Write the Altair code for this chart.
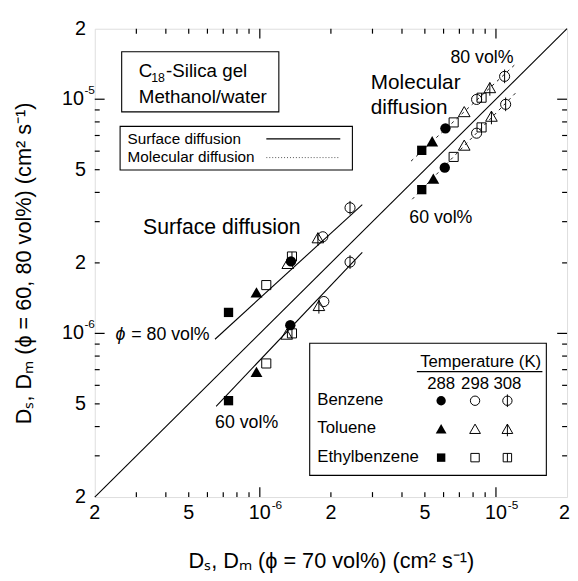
import itertools
import altair as alt
import pandas as pd

# ---------------- data ----------------
compounds = ["Benzene", "Toluene", "Ethylbenzene"]
temps = [288, 298, 308]

# order in every list: Benzene 288/298/308, Toluene 288/298/308, Ethylbenzene 288/298/308
surf80_x = [1.355e-6, 1.848e-6, 2.41e-6, 9.68e-7, 1.313e-6, 1.762e-6, 7.37e-7, 1.065e-6, 1.368e-6]
surf80_y = [2.03e-6, 2.586e-6, 3.44e-6, 1.493e-6, 1.984e-6, 2.554e-6, 1.229e-6, 1.608e-6, 2.13e-6]
surf60_x = [1.346e-6, 1.867e-6, 2.41e-6, 9.68e-7, 1.30e-6, 1.779e-6, 7.37e-7, 1.065e-6, 1.368e-6]
surf60_y = [1.084e-6, 1.368e-6, 2.016e-6, 6.83e-7, 9.90e-7, 1.312e-6, 5.16e-7, 7.44e-7, 1.0e-6]
mol80_x = [6.11e-6, 8.28e-6, 1.088e-5, 5.37e-6, 7.34e-6, 9.42e-6, 4.85e-6, 6.62e-6, 8.69e-6]
mol80_y = [7.51e-6, 9.98e-6, 1.252e-5, 6.60e-6, 8.83e-6, 1.118e-5, 6.05e-6, 7.96e-6, 1.015e-5]
mol60_x = [6.07e-6, 8.28e-6, 1.099e-5, 5.43e-6, 7.34e-6, 9.57e-6, 4.85e-6, 6.62e-6, 8.69e-6]
mol60_y = [5.10e-6, 7.16e-6, 9.51e-6, 4.57e-6, 6.35e-6, 8.44e-6, 4.11e-6, 5.67e-6, 7.58e-6]

# fitted / reference lines (end points)
solid_names = ["1:1", "surface 80", "surface 60"]
solid_x = [[2e-7, 2e-5], [6.46e-7, 2.716e-6], [6.53e-7, 2.716e-6]]
solid_y = [[2e-7, 2e-5], [9.44e-7, 3.55e-6], [4.88e-7, 2.22e-6]]
dash_names = ["molecular 80", "molecular 60"]
dash_x = [[4.37e-6, 1.198e-5], [4.42e-6, 1.213e-5]]
dash_y = [[5.44e-6, 1.40e-5], [3.74e-6, 1.065e-5]]

# axis ticks and labels
major_ticks = [1e-6, 1e-5]
minor_ticks = [3e-7, 4e-7, 5e-7, 6e-7, 7e-7, 8e-7, 9e-7,
               2e-6, 3e-6, 4e-6, 5e-6, 6e-6, 7e-6, 8e-6, 9e-6]
plain_label_vals = [2e-7, 5e-7, 2e-6, 5e-6, 2e-5]
plain_label_txt = ["2", "5", "2", "5", "2"]
decade_vals = [1e-6, 1e-5]
decade_exp = ["-6", "-5"]

# ---------------- build tables ----------------
rows = []
for xs, ys in [(surf80_x, surf80_y), (surf60_x, surf60_y), (mol80_x, mol80_y), (mol60_x, mol60_y)]:
    for i, (c, t) in enumerate(itertools.product(compounds, temps)):
        rows.append({"x": xs[i], "y": ys[i], "compound": c, "temp": t, "key": f"{c} {t}"})
pts = pd.DataFrame(rows)


def line_table(names, xs, ys):
    r = []
    for n, xx, yy in zip(names, xs, ys):
        for a, b in zip(xx, yy):
            r.append({"line": n, "x": a, "y": b})
    return pd.DataFrame(r)


solid_df = line_table(solid_names, solid_x, solid_y)
dash_df = line_table(dash_names, dash_x, dash_y)

# ---------------- styling ----------------
FONT = "Liberation Sans"
W, H = 479, 475

CIRCLE = "circle"
CIRCLE_BAR = "M-1,0A1,1,0,1,1,1,0A1,1,0,1,1,-1,0ZM0,-1.35L0,1.35"
TRI = "M0,-1.05L1.15,0.95L-1.15,0.95Z"
TRI_BAR = "M0,-1.05L1.15,0.95L-1.15,0.95ZM0,-1.05L0,1.55"
SQ = "M-0.9,-0.9L0.9,-0.9L0.9,0.9L-0.9,0.9Z"
SQ_BAR = "M-0.9,-0.9L0.9,-0.9L0.9,0.9L-0.9,0.9ZM0,-0.9L0,0.9"
shape_of = {"Benzene": [CIRCLE, CIRCLE, CIRCLE_BAR],
            "Toluene": [TRI, TRI, TRI_BAR],
            "Ethylbenzene": [SQ, SQ, SQ_BAR]}
keys = [f"{c} {t}" for c in compounds for t in temps]
shapes = [shape_of[c][j] for c in compounds for j in range(3)]

xscale = alt.Scale(type="log", domain=[2e-7, 2e-5], nice=False)
yscale = alt.Scale(type="log", domain=[2e-7, 2e-5], nice=False)
xaxis = alt.Axis(title="Dₛ, Dₘ (ϕ = 70 vol%)  (cm² s⁻¹)", labels=False, ticks=False,
                 domain=False, grid=False, titleFont=FONT, titleFontSize=22,
                 titleFontWeight="normal", titleColor="black", titlePadding=54)
yaxis = alt.Axis(title="Dₛ, Dₘ (ϕ = 60, 80 vol%)  (cm² s⁻¹)", labels=False, ticks=False,
                 domain=False, grid=False, titleFont=FONT, titleFontSize=22,
                 titleFontWeight="normal", titleColor="black", titlePadding=60)


def X():
    return alt.X("x:Q", scale=xscale, axis=xaxis)


def Y():
    return alt.Y("y:Q", scale=yscale, axis=yaxis)


one = pd.DataFrame({"k": [0]})
layers = []

# lines
layers.append(alt.Chart(solid_df).mark_line(color="black", strokeWidth=1.1)
              .encode(x=X(), y=Y(), detail="line:N"))
layers.append(alt.Chart(dash_df).mark_line(color="black", strokeWidth=0.9, strokeDash=[3, 4])
              .encode(x=X(), y=Y(), detail="line:N"))

# points
shape_enc = alt.Shape("key:N", scale=alt.Scale(domain=keys, range=shapes), legend=None)
layers.append(alt.Chart(pts).transform_filter("datum.temp == 288")
              .mark_point(filled=True, color="black", size=110, opacity=1)
              .encode(x=X(), y=Y(), shape=shape_enc))
layers.append(alt.Chart(pts).transform_filter("datum.temp != 288")
              .mark_point(filled=False, color="black", size=105, opacity=1, strokeWidth=1)
              .encode(x=X(), y=Y(), shape=shape_enc))

# inward ticks on all four sides
for vals, ln in [(major_ticks, 10), (minor_ticks, 5)]:
    dx = pd.DataFrame({"x": vals})
    dy = pd.DataFrame({"y": vals})
    layers.append(alt.Chart(dx).mark_rule(color="black", strokeWidth=1.2)
                  .encode(x=X(), y=alt.value(H), y2=alt.value(H - ln)))
    layers.append(alt.Chart(dx).mark_rule(color="black", strokeWidth=1.2)
                  .encode(x=X(), y=alt.value(0), y2=alt.value(ln)))
    layers.append(alt.Chart(dy).mark_rule(color="black", strokeWidth=1.2)
                  .encode(y=Y(), x=alt.value(0), x2=alt.value(ln)))
    layers.append(alt.Chart(dy).mark_rule(color="black", strokeWidth=1.2)
                  .encode(y=Y(), x=alt.value(W), x2=alt.value(W - ln)))

# tick labels
lab_x = pd.DataFrame({"x": plain_label_vals, "lab": plain_label_txt})
lab_y = pd.DataFrame({"y": plain_label_vals, "lab": plain_label_txt})
dec_x = pd.DataFrame({"x": decade_vals, "e": decade_exp})
dec_y = pd.DataFrame({"y": decade_vals, "e": decade_exp})
layers.append(alt.Chart(lab_x).transform_filter("datum.x < 1.5e-5")
              .mark_text(font=FONT, fontSize=20, baseline="top", color="black")
              .encode(x=X(), y=alt.value(H + 6.5), text="lab:N"))
layers.append(alt.Chart(lab_x).transform_filter("datum.x >= 1.5e-5")
              .mark_text(font=FONT, fontSize=20, baseline="top", align="right", dx=3, color="black")
              .encode(x=X(), y=alt.value(H + 6.5), text="lab:N"))
layers.append(alt.Chart(dec_x).mark_text(font=FONT, fontSize=20, baseline="top", color="black", text="10")
              .encode(x=X(), y=alt.value(H + 6.5)))
layers.append(alt.Chart(dec_x).mark_text(font=FONT, fontSize=12, baseline="top", align="left", dx=12, color="black")
              .encode(x=X(), y=alt.value(H + 3), text="e:N"))
layers.append(alt.Chart(lab_y).mark_text(font=FONT, fontSize=20, baseline="middle", align="right", color="black")
              .encode(y=Y(), x=alt.value(-9), text="lab:N"))
layers.append(alt.Chart(dec_y).mark_text(font=FONT, fontSize=20, baseline="middle", align="right", color="black", text="10")
              .encode(y=Y(), x=alt.value(-11)))
layers.append(alt.Chart(dec_y).mark_text(font=FONT, fontSize=12, baseline="middle", align="left", dy=-9, color="black")
              .encode(y=Y(), x=alt.value(-10.5), text="e:N"))


# annotations (layout positions in pixels inside the plot area)
def txt(s, px, py, size=18, align="left", style="normal"):
    return (alt.Chart(one).mark_text(text=s, font=FONT, fontSize=size, align=align,
                                     baseline="alphabetic", fontStyle=style, color="black")
            .encode(x=alt.value(px), y=alt.value(py)))


def box(x0, y0, x1, y1):
    return (alt.Chart(one).mark_rect(fill="white", stroke="black", strokeWidth=1.1)
            .encode(x=alt.value(x0), x2=alt.value(x1), y=alt.value(y0), y2=alt.value(y1)))


def hline(x0, x1, y, dash=None, width=1.1, color="black"):
    kw = {"color": color, "strokeWidth": width}
    if dash:
        kw["strokeDash"] = dash
    return (alt.Chart(one).mark_rule(**kw)
            .encode(x=alt.value(x0), x2=alt.value(x1), y=alt.value(y)))


layers += [
    txt("Surface diffusion", 49, 207.7, 21.5),
    txt("ϕ", 21, 315.7, 18, style="italic"),
    txt("= 80 vol%", 37, 315.7, 18),
    txt("60 vol%", 122, 405, 18),
    txt("Molecular", 280, 61, 21),
    txt("diffusion", 280, 86, 21),
    txt("80 vol%", 360.7, 35, 18),
    txt("60 vol%", 319, 196.7, 18),
]

# info box
layers += [
    box(27.3, 23.3, 186.7, 84.3),
    txt("C", 44.7, 49, 19),
    txt("18", 57.3, 54, 12.5),
    txt("-Silica gel", 72.3, 49, 19),
    txt("Methanol/water", 44.7, 75.7, 19),
]

# line-style legend
layers += [
    box(25.7, 99, 261.3, 143.3),
    txt("Surface diffusion", 33.3, 116.7, 15.5),
    txt("Molecular diffusion", 33.3, 135, 15.5),
    hline(174, 249, 111.7, width=1.1),
    hline(174, 249, 130.7, dash=[1, 2], width=1, color="#555555"),
]

# symbol legend
layers += [
    box(218, 319, 458, 453),
    txt("Temperature (K)", 330, 343, 17),
    hline(326.7, 454, 347.7, width=1.2),
]
col_x = [351.3, 385.7, 418.5]
row_y = [377.3, 406, 435]
for j, t in enumerate(temps):
    layers.append(txt(str(t), col_x[j], 365.7, 17, align="center"))
for i, c in enumerate(compounds):
    layers.append(txt(c, 225.7, row_y[i] + 4.5, 17))
    for j, t in enumerate(temps):
        sh = shape_of[c][j]
        layers.append(alt.Chart(one).mark_point(shape=sh, size=90, color="black", opacity=1,
                                               filled=(t == 288), strokeWidth=1)
                      .encode(x=alt.value(col_x[j]), y=alt.value(row_y[i])))

chart = (alt.layer(*layers)
         .properties(width=W, height=H,
                     autosize=alt.AutoSizeParams(type="none"),
                     padding={"left": 88, "top": 17, "right": 3, "bottom": 73})
         .configure_view(stroke="black", strokeWidth=1.6)
         .configure(background="white"))

chart.save("out.html", embed_options={"renderer": "svg", "actions": False})
